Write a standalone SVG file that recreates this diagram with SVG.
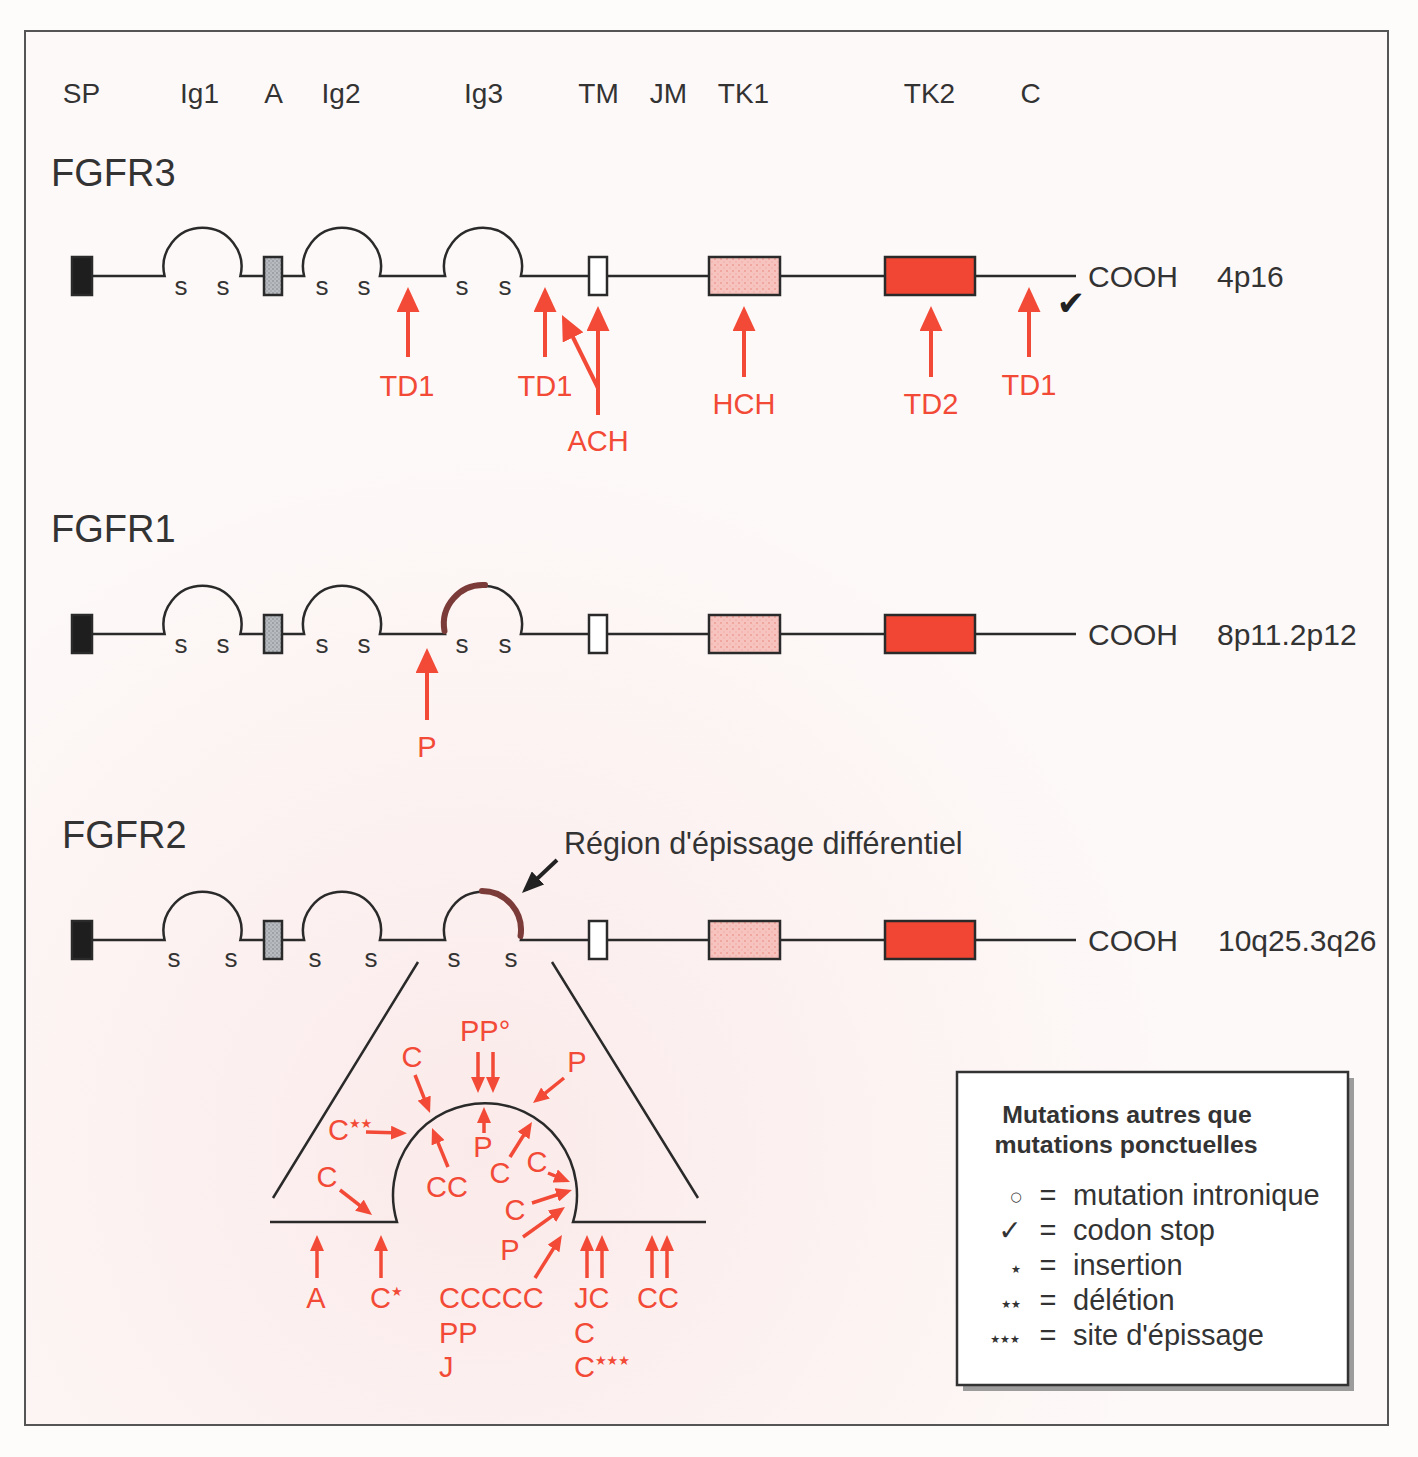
<svg xmlns="http://www.w3.org/2000/svg" width="1418" height="1457" viewBox="0 0 1418 1457">
<defs>
<style>
.t{font-family:"Liberation Sans",Arial,sans-serif;fill:#333}
.hd{font-size:28px;text-anchor:middle}
.ttl{font-size:38px}
.lb{font-size:30px}
.s{font-size:26px;text-anchor:middle}
.r{font-family:"Liberation Sans",Arial,sans-serif;fill:#f24a36;font-size:29px}
.rm{text-anchor:middle}
.st{font-family:"DejaVu Sans",sans-serif}
.ln{fill:none;stroke:#2a2a2a;stroke-width:2.5}
.box{stroke:#2a2a2a;stroke-width:2.5}
.brown{fill:none;stroke:#7b3b38;stroke-width:6;stroke-linecap:round}
.ar{stroke:#f24a36;stroke-width:4;fill:none;marker-end:url(#ahR)}
.as{stroke:#f24a36;stroke-width:3.5;fill:none;marker-end:url(#ahS)}
.lg{font-family:"Liberation Sans",Arial,sans-serif;fill:#333;font-size:29px}
.lgb{font-family:"Liberation Sans",Arial,sans-serif;fill:#333;font-size:24.8px;font-weight:bold;text-anchor:middle}
</style>
<marker id="ahR" markerUnits="userSpaceOnUse" viewBox="0 0 25 23" markerWidth="25" markerHeight="23" refX="20" refY="11.5" orient="auto"><path d="M0,0 L25,11.5 L0,23 z" fill="#f24a36"/></marker>
<marker id="ahS" markerUnits="userSpaceOnUse" viewBox="0 0 16 14" markerWidth="16" markerHeight="14" refX="11" refY="7" orient="auto"><path d="M0,0 L16,7 L0,14 z" fill="#f24a36"/></marker>
<marker id="ahK" markerUnits="userSpaceOnUse" viewBox="0 0 22 18" markerWidth="22" markerHeight="18" refX="17" refY="9" orient="auto"><path d="M0,0 L22,9 L0,18 z" fill="#222"/></marker>
<pattern id="pink" patternUnits="userSpaceOnUse" width="6" height="6"><rect width="6" height="6" fill="#f7c3be"/><circle cx="1" cy="1" r="0.9" fill="#ec9a92"/><circle cx="4" cy="4" r="0.8" fill="#f0aaa3"/></pattern>
<pattern id="gray" patternUnits="userSpaceOnUse" width="4" height="4"><rect width="4" height="4" fill="#b8bcc0"/><circle cx="1" cy="1" r="0.8" fill="#7d8288"/><circle cx="3" cy="3" r="0.7" fill="#8f949a"/></pattern>
<radialGradient id="bg" cx="480" cy="1150" r="700" gradientUnits="userSpaceOnUse"><stop offset="0" stop-color="#fbeaea"/><stop offset="1" stop-color="#fdf9f8"/></radialGradient>
<g id="rowShape">
<path class="ln" d="M92 0 H164.6 A39 39 0 1 1 240.4 0 H264 M282 0 H304.1 A39 39 0 1 1 379.9 0 H445.1 A39 39 0 1 1 520.9 0 H589 M607 0 H709 M780 0 H885 M975 0 H1076"/>
<rect x="72" y="-19" width="20" height="38" fill="#1e1e1e" class="box"/>
<rect x="264" y="-19" width="18" height="38" fill="url(#gray)" class="box"/>
<rect x="589" y="-19" width="18" height="38" fill="#fff" class="box"/>
<rect x="709" y="-19" width="71" height="38" fill="url(#pink)" class="box"/>
<rect x="885" y="-19" width="90" height="38" fill="#f04633" class="box"/>
</g>
</defs>
<rect width="1418" height="1457" fill="#fefbfb"/>
<rect x="25" y="31" width="1363" height="1394" fill="url(#bg)" stroke="#555" stroke-width="2"/>

<g id="headers" class="t hd">
<text x="81.5" y="103">SP</text>
<text x="199.5" y="103">Ig1</text>
<text x="273.5" y="103">A</text>
<text x="341" y="103">Ig2</text>
<text x="483.5" y="103">Ig3</text>
<text x="598.5" y="103">TM</text>
<text x="668.5" y="103">JM</text>
<text x="743.5" y="103">TK1</text>
<text x="929.5" y="103">TK2</text>
<text x="1030.5" y="103">C</text>
</g>

<g id="fgfr3">
<text class="t ttl" x="51" y="186">FGFR3</text>
<use href="#rowShape" transform="translate(0,276)"/>
<g class="t s">
<text x="181" y="295">s</text><text x="223" y="295">s</text>
<text x="322" y="295">s</text><text x="364" y="295">s</text>
<text x="462" y="295">s</text><text x="505" y="295">s</text>
</g>
<text class="t lb" x="1088" y="287">COOH</text>
<text class="t lb" x="1217" y="287">4p16</text>
<text class="st" x="1071" y="315" font-size="34" fill="#222" text-anchor="middle">✔</text>
</g>

<g id="fgfr1">
<text class="t ttl" x="51" y="542">FGFR1</text>
<use href="#rowShape" transform="translate(0,634)"/>
<path class="brown" d="M444.5 631 A39 39 0 0 1 485 585.1"/>
<g class="t s">
<text x="181" y="653">s</text><text x="223" y="653">s</text>
<text x="322" y="653">s</text><text x="364" y="653">s</text>
<text x="462" y="653">s</text><text x="505" y="653">s</text>
</g>
<text class="t lb" x="1088" y="645">COOH</text>
<text class="t lb" x="1217" y="645">8p11.2p12</text>
</g>

<g id="fgfr2">
<text class="t ttl" x="62" y="848">FGFR2</text>
<use href="#rowShape" transform="translate(0,940)"/>
<path class="brown" d="M482 891 A39 39 0 0 1 520.5 936"/>
<g class="t s">
<text x="174" y="967">s</text><text x="231" y="967">s</text>
<text x="315" y="967">s</text><text x="371" y="967">s</text>
<text x="454" y="967">s</text><text x="511" y="967">s</text>
</g>
<text class="t lb" x="1088" y="951">COOH</text>
<text class="t lb" x="1218" y="951">10q25.3q26</text>
<text class="t" x="564" y="854" font-size="30.5">Région d'épissage différentiel</text>
</g>

<g id="zoom">
<path class="ln" d="M418 962 L273 1198 M552 962 L698 1198"/>
<path class="ln" stroke-width="3" d="M270 1222 H397 A92 92 0 1 1 573 1222 H706"/>
</g>

<g id="connectors">
<path d="M557 860 L525.6 889.6" stroke="#222" stroke-width="4" marker-end="url(#ahK)"/>
<line class="ar" x1="408" y1="357" x2="408" y2="292"/>
<line class="ar" x1="545" y1="357" x2="545" y2="292"/>
<line class="ar" x1="598" y1="415" x2="598" y2="311"/>
<line class="ar" x1="598" y1="388" x2="564.2" y2="319.5"/>
<line class="ar" x1="744" y1="377" x2="744" y2="311"/>
<line class="ar" x1="931" y1="377" x2="931" y2="311"/>
<line class="ar" x1="1029" y1="357" x2="1029" y2="292"/>
<line class="ar" x1="427" y1="720" x2="427" y2="653"/>
<line class="as" x1="478" y1="1052" x2="478" y2="1088"/>
<line class="as" x1="493" y1="1052" x2="493" y2="1088"/>
<line class="as" x1="415" y1="1075" x2="428.2" y2="1108.4"/>
<line class="as" x1="564" y1="1078" x2="536.9" y2="1099.9"/>
<line class="as" x1="366" y1="1132" x2="402" y2="1133"/>
<line class="as" x1="484" y1="1133" x2="484" y2="1112"/>
<line class="as" x1="448" y1="1167" x2="433.9" y2="1132.6"/>
<line class="as" x1="510" y1="1157" x2="529.3" y2="1126.2"/>
<line class="as" x1="548" y1="1173" x2="565.4" y2="1180.1"/>
<line class="as" x1="532" y1="1203" x2="567.2" y2="1191.5"/>
<line class="as" x1="523" y1="1237" x2="560.9" y2="1209.9"/>
<line class="as" x1="535" y1="1278" x2="559.3" y2="1239.2"/>
<line class="as" x1="340" y1="1190" x2="368.1" y2="1211.9"/>
<line class="as" x1="317" y1="1278" x2="317" y2="1240"/>
<line class="as" x1="381" y1="1278" x2="381" y2="1240"/>
<line class="as" x1="587" y1="1278" x2="587" y2="1240"/>
<line class="as" x1="602" y1="1278" x2="602" y2="1240"/>
<line class="as" x1="652" y1="1278" x2="652" y2="1240"/>
<line class="as" x1="667" y1="1278" x2="667" y2="1240"/>
</g>

<g id="mutation-labels">
<text class="r rm" x="407" y="396">TD1</text>
<text class="r rm" x="545" y="396">TD1</text>
<text class="r rm" x="598" y="451">ACH</text>
<text class="r rm" x="744" y="414">HCH</text>
<text class="r rm" x="931" y="414">TD2</text>
<text class="r rm" x="1029" y="395">TD1</text>
<text class="r rm" x="427" y="757">P</text>
<text class="r" x="460" y="1041">PP°</text>
<text class="r rm" x="412" y="1067">C</text>
<text class="r rm" x="577" y="1072">P</text>
<text class="r" x="328" y="1140">C<tspan class="st" font-size="13" dy="-12">★★</tspan></text>
<text class="r rm" x="483" y="1157">P</text>
<text class="r rm" x="447" y="1197">CC</text>
<text class="r rm" x="500" y="1183">C</text>
<text class="r rm" x="537" y="1172">C</text>
<text class="r rm" x="515" y="1220">C</text>
<text class="r rm" x="510" y="1260">P</text>
<text class="r rm" x="327" y="1187">C</text>
<text class="r rm" x="316" y="1308">A</text>
<text class="r" x="370" y="1308">C<tspan class="st" font-size="13" dy="-12">★</tspan></text>
<text class="r" x="439" y="1308">CCCCC</text>
<text class="r" x="439" y="1343">PP</text>
<text class="r" x="439" y="1377">J</text>
<text class="r" x="574" y="1308">JC</text>
<text class="r" x="574" y="1343">C</text>
<text class="r" x="574" y="1377">C<tspan class="st" font-size="13" dy="-12">★★★</tspan></text>
<text class="r" x="637" y="1308">CC</text>
</g>

<g id="legend">
<rect x="963" y="1078" width="391" height="313" fill="#9c9c9c"/>
<rect x="957" y="1072" width="391" height="313" fill="#fff" stroke="#333" stroke-width="2.5"/>
<text class="lgb" x="1127" y="1123">Mutations autres que</text>
<text class="lgb" x="1126" y="1153">mutations ponctuelles</text>
<g fill="#333" class="st" text-anchor="middle">
<text x="1016" y="1201" font-size="13">○</text>
<text x="1010" y="1240" font-size="28">✓</text>
<text x="1016" y="1273" font-size="11">★</text>
<text x="1011" y="1308" font-size="11">★★</text>
<text x="1005" y="1343" font-size="11">★★★</text>
</g>
<g class="lg" text-anchor="middle">
<text x="1048" y="1205">=</text>
<text x="1048" y="1240">=</text>
<text x="1048" y="1275">=</text>
<text x="1048" y="1310">=</text>
<text x="1048" y="1345">=</text>
</g>
<g class="lg">
<text x="1073" y="1205">mutation intronique</text>
<text x="1073" y="1240">codon stop</text>
<text x="1073" y="1275">insertion</text>
<text x="1073" y="1310">délétion</text>
<text x="1073" y="1345">site d'épissage</text>
</g>
</g>
</svg>
